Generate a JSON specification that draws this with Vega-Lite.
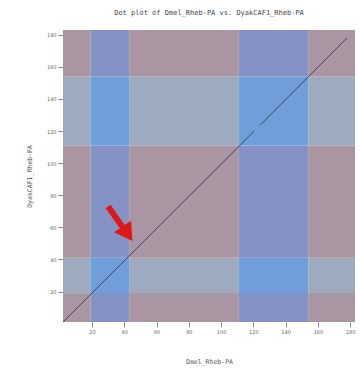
{
  "$schema": "https://vega.github.io/schema/vega-lite/v6.json",
  "autosize": {"type": "none"},
  "padding": {"left": 63, "top": 30, "right": 5, "bottom": 48},
  "width": 292,
  "height": 292,
  "background": "white",
  "title": {
    "text": "Dot plot of Dmel_Rheb-PA vs. DyakCAF1_Rheb-PA",
    "font": "DejaVu Sans Mono",
    "fontSize": 7,
    "fontWeight": "normal",
    "color": "#444444",
    "offset": 14,
    "anchor": "middle"
  },
  "config": {
    "view": {"stroke": null},
    "axis": {
      "domain": false,
      "grid": false,
      "tickColor": "#888888",
      "tickSize": 5,
      "labelFont": "DejaVu Sans",
      "labelFontSize": 5,
      "labelColor": "#666666",
      "titleFont": "DejaVu Sans Mono",
      "titleFontSize": 6.5,
      "titleFontWeight": "normal",
      "titleColor": "#555555"
    }
  },
  "datasets": {
    "cells": [
      {"x": 2, "x2": 19, "y": 1, "y2": 19, "kind": "none"},
      {"x": 19, "x2": 43, "y": 1, "y2": 19, "kind": "xband"},
      {"x": 43, "x2": 111, "y": 1, "y2": 19, "kind": "none"},
      {"x": 111, "x2": 154, "y": 1, "y2": 19, "kind": "xband"},
      {"x": 154, "x2": 183, "y": 1, "y2": 19, "kind": "none"},
      {"x": 2, "x2": 19, "y": 19, "y2": 41, "kind": "yband"},
      {"x": 19, "x2": 43, "y": 19, "y2": 41, "kind": "both"},
      {"x": 43, "x2": 111, "y": 19, "y2": 41, "kind": "yband"},
      {"x": 111, "x2": 154, "y": 19, "y2": 41, "kind": "both"},
      {"x": 154, "x2": 183, "y": 19, "y2": 41, "kind": "yband"},
      {"x": 2, "x2": 19, "y": 41, "y2": 111, "kind": "none"},
      {"x": 19, "x2": 43, "y": 41, "y2": 111, "kind": "xband"},
      {"x": 43, "x2": 111, "y": 41, "y2": 111, "kind": "none"},
      {"x": 111, "x2": 154, "y": 41, "y2": 111, "kind": "xband"},
      {"x": 154, "x2": 183, "y": 41, "y2": 111, "kind": "none"},
      {"x": 2, "x2": 19, "y": 111, "y2": 154, "kind": "yband"},
      {"x": 19, "x2": 43, "y": 111, "y2": 154, "kind": "both"},
      {"x": 43, "x2": 111, "y": 111, "y2": 154, "kind": "yband"},
      {"x": 111, "x2": 154, "y": 111, "y2": 154, "kind": "both"},
      {"x": 154, "x2": 183, "y": 111, "y2": 154, "kind": "yband"},
      {"x": 2, "x2": 19, "y": 154, "y2": 183, "kind": "none"},
      {"x": 19, "x2": 43, "y": 154, "y2": 183, "kind": "xband"},
      {"x": 43, "x2": 111, "y": 154, "y2": 183, "kind": "none"},
      {"x": 111, "x2": 154, "y": 154, "y2": 183, "kind": "xband"},
      {"x": 154, "x2": 183, "y": 154, "y2": 183, "kind": "none"}
    ],
    "segments": [
      {"x": 2, "y": 1, "x2": 120.5, "y2": 120},
      {"x": 124, "y": 123.5, "x2": 178, "y2": 178}
    ],
    "arrowShaft": [
      {"x": 30, "y": 73, "x2": 39, "y2": 60}
    ],
    "arrowHead": [
      {"x": 42, "y": 56}
    ]
  },
  "layer": [
    {
      "data": {"name": "cells"},
      "mark": {"type": "rect"},
      "encoding": {
        "x": {"field": "x", "type": "quantitative", "scale": {"domain": [2, 183], "nice": false, "zero": false},
              "axis": {"tickCount": 9, "labelOverlap": false, "labelFlush": false, "title": "Dmel_Rheb-PA", "titlePadding": 24}},
        "x2": {"field": "x2"},
        "y": {"field": "y", "type": "quantitative", "scale": {"domain": [1, 183], "nice": false, "zero": false},
              "axis": {"tickCount": 9, "labelOverlap": false, "labelFlush": false, "title": "DyakCAF1_Rheb-PA", "titlePadding": 14}},
        "y2": {"field": "y2"},
        "color": {
          "field": "kind", "type": "nominal", "legend": null,
          "scale": {"domain": ["none", "xband", "yband", "both"], "range": ["#aa95a2", "#8492c6", "#9eaabe", "#6f9edb"]}
        }
      }
    },
    {
      "data": {"name": "segments"},
      "mark": {"type": "rule", "color": "#40445a", "strokeWidth": 1},
      "encoding": {
        "x": {"field": "x", "type": "quantitative"},
        "y": {"field": "y", "type": "quantitative"},
        "x2": {"field": "x2"},
        "y2": {"field": "y2"}
      }
    },
    {
      "data": {"name": "arrowShaft"},
      "mark": {"type": "rule", "color": "#dd1818", "strokeWidth": 6},
      "encoding": {
        "x": {"field": "x", "type": "quantitative"},
        "y": {"field": "y", "type": "quantitative"},
        "x2": {"field": "x2"},
        "y2": {"field": "y2"}
      }
    },
    {
      "data": {"name": "arrowHead"},
      "mark": {"type": "point", "shape": "triangle-up", "filled": true, "color": "#dd1818", "opacity": 1, "size": 420, "angle": 146},
      "encoding": {
        "x": {"field": "x", "type": "quantitative"},
        "y": {"field": "y", "type": "quantitative"}
      }
    }
  ]
}
